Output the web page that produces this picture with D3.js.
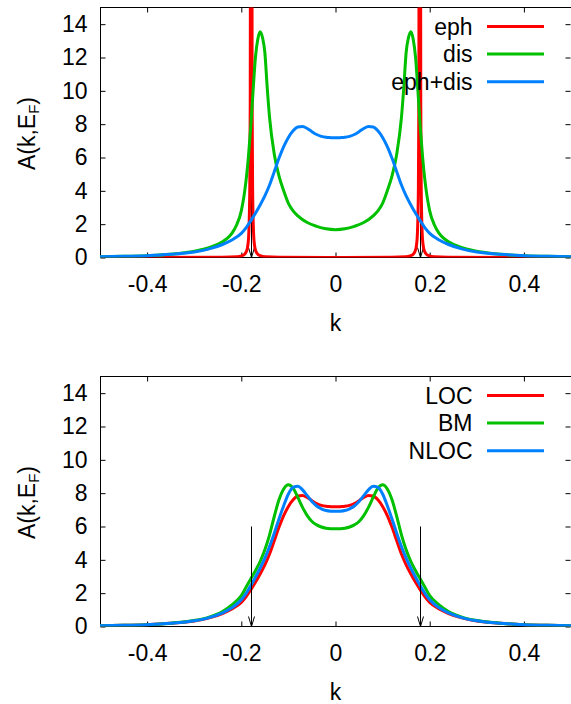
<!DOCTYPE html>
<html><head><meta charset="utf-8">
<script src="https://cdn.jsdelivr.net/npm/d3@7"></script>
<style>
body{margin:0;background:#fff}
svg{display:block}
text{font-family:"Liberation Sans",Arial,Helvetica,sans-serif}
</style>
</head><body>
<svg id="c" width="571" height="704"></svg>
<script>
// ---------- data ----------
const xTicks = [-0.4, -0.2, 0, 0.2, 0.4];
const yTicks = [0, 2, 4, 6, 8, 10, 12, 14];

// top panel: eph (very narrow peaks at k = ±0.179)
const ephK = [-0.5,-0.239,-0.209,-0.194,-0.189,-0.186,-0.184,-0.182,-0.181,-0.180,-0.179,-0.178,-0.177,-0.176,-0.174,-0.172,-0.169,-0.164,-0.149,-0.119,0,
              0.119,0.149,0.164,0.169,0.172,0.174,0.176,0.177,0.178,0.179,0.180,0.181,0.182,0.184,0.186,0.189,0.194,0.209,0.239,0.5];
const ephV = [0,0.01,0.04,0.17,0.37,0.75,1.5,4.2,9.4,37,200,37,9.4,4.2,1.5,0.75,0.37,0.17,0.04,0.01,0.003,
              0.01,0.04,0.17,0.37,0.75,1.5,4.2,9.4,37,200,37,9.4,4.2,1.5,0.75,0.37,0.17,0.04,0.01,0];

// top panel: dis
const disK = [-0.5,-0.45,-0.4,-0.35,-0.31,-0.28,-0.26,-0.24,-0.23,-0.22,-0.21,-0.2,-0.19,-0.185,-0.18,-0.175,-0.17,-0.165,-0.16,-0.155,-0.15,-0.145,-0.14,-0.13,-0.12,-0.11,-0.1,-0.09,-0.08,-0.06,-0.04,-0.02,0,
              0.02,0.04,0.06,0.08,0.09,0.1,0.11,0.12,0.13,0.14,0.145,0.15,0.155,0.16,0.165,0.17,0.175,0.18,0.185,0.19,0.2,0.21,0.22,0.23,0.24,0.26,0.28,0.31,0.35,0.4,0.45,0.5];
const disV = [0.05,0.07,0.11,0.19,0.33,0.5,0.68,0.95,1.15,1.45,1.95,2.8,4.6,6.0,7.8,10.0,12.0,13.1,13.55,13.2,12.3,10.2,8.4,6.2,4.9,4.0,3.25,2.8,2.5,2.1,1.87,1.72,1.67,
              1.72,1.87,2.1,2.5,2.8,3.25,4.0,4.9,6.2,8.4,10.2,12.3,13.2,13.55,13.1,12.0,10.0,7.8,6.0,4.6,2.8,1.95,1.45,1.15,0.95,0.68,0.5,0.33,0.19,0.11,0.07,0.05];

// common k grid for the broad curves
const kGrid = [-0.5,-0.45,-0.4,-0.35,-0.3,-0.27,-0.24,-0.22,-0.2,-0.19,-0.18,-0.17,-0.16,-0.15,-0.14,-0.13,-0.12,-0.11,-0.1,-0.09,-0.08,-0.07,-0.06,-0.05,-0.04,-0.03,-0.02,-0.01,0,
               0.01,0.02,0.03,0.04,0.05,0.06,0.07,0.08,0.09,0.1,0.11,0.12,0.13,0.14,0.15,0.16,0.17,0.18,0.19,0.2,0.22,0.24,0.27,0.3,0.35,0.4,0.45,0.5];

// top panel: eph+dis
const ephdisV = [0.05,0.07,0.11,0.19,0.33,0.5,0.78,1.05,1.45,1.78,2.2,2.65,3.15,3.7,4.35,5.15,5.95,6.65,7.2,7.6,7.83,7.86,7.74,7.55,7.38,7.27,7.21,7.19,7.18,
                 7.19,7.21,7.27,7.38,7.55,7.74,7.86,7.83,7.6,7.2,6.65,5.95,5.15,4.35,3.7,3.15,2.65,2.2,1.78,1.45,1.05,0.78,0.5,0.33,0.19,0.11,0.07,0.05];

// bottom panel
const locV  = [0.05,0.07,0.11,0.19,0.33,0.5,0.78,1.05,1.45,1.78,2.2,2.65,3.15,3.7,4.35,5.15,5.95,6.65,7.2,7.6,7.83,7.86,7.74,7.55,7.38,7.27,7.21,7.19,7.18,
               7.19,7.21,7.27,7.38,7.55,7.74,7.86,7.83,7.6,7.2,6.65,5.95,5.15,4.35,3.7,3.15,2.65,2.2,1.78,1.45,1.05,0.78,0.5,0.33,0.19,0.11,0.07,0.05];
const bmV   = [0.05,0.07,0.11,0.2,0.36,0.55,0.9,1.3,1.85,2.35,2.85,3.35,3.9,4.6,5.5,6.6,7.6,8.25,8.5,8.3,7.75,7.15,6.65,6.3,6.1,5.97,5.9,5.87,5.86,
               5.87,5.9,5.97,6.1,6.3,6.65,7.15,7.75,8.3,8.5,8.25,7.6,6.6,5.5,4.6,3.9,3.35,2.85,2.35,1.85,1.3,0.9,0.55,0.36,0.2,0.11,0.07,0.05];
const nlocV = [0.05,0.07,0.11,0.19,0.34,0.52,0.82,1.12,1.6,1.98,2.45,2.95,3.5,4.1,4.8,5.6,6.45,7.25,7.95,8.35,8.42,8.2,7.85,7.5,7.23,7.06,6.96,6.92,6.91,
               6.92,6.96,7.06,7.23,7.5,7.85,8.2,8.42,8.35,7.95,7.25,6.45,5.6,4.8,4.1,3.5,2.95,2.45,1.98,1.6,1.12,0.82,0.52,0.34,0.19,0.11,0.07,0.05];

const arrowK = [-0.179, 0.179];
const arrowFrom = 6, arrowTo = 0;

const topNames = ["eph", "dis", "eph+dis"];
const botNames = ["LOC", "BM", "NLOC"];
const colors = ["#ff0000", "#00c000", "#0080ff"];

// ---------- drawing ----------
const FS = "23px";
const svg = d3.select("#c");
const left = 100, plotW = 471, plotH = 250;
const x = d3.scaleLinear().domain([-0.5, 0.5]).range([left, left + plotW]);
const zip = (ks, vs) => ks.map((k, i) => [k, vs[i]]);

const panels = [
  {y0: 7.5, series: [zip(ephK, ephV), zip(disK, disV), zip(kGrid, ephdisV)], names: topNames, arrowsOnTop: false},
  {y0: 376.5, series: [zip(kGrid, locV), zip(kGrid, bmV), zip(kGrid, nlocV)], names: botNames, arrowsOnTop: true}
];

panels.forEach((p, pi) => {
  const y = d3.scaleLinear().domain([0, 15]).range([p.y0 + plotH, p.y0]);
  const g = svg.append("g");
  const clipId = "clip" + pi;
  g.append("clipPath").attr("id", clipId).append("rect")
    .attr("x", left).attr("y", p.y0).attr("width", plotW).attr("height", plotH);

  // axes
  const fmt = d => String(d);
  const ax = [
    g.append("g").attr("transform", `translate(${left + 0.5},0)`)
      .call(d3.axisLeft(y).tickValues(yTicks).tickSizeInner(-5).tickSizeOuter(0).tickPadding(13).tickFormat(fmt)),
    g.append("g").attr("transform", `translate(${left + plotW - 0.5},0)`)
      .call(d3.axisRight(y).tickValues(yTicks).tickSizeInner(-5).tickSizeOuter(0).tickFormat("")),
    g.append("g").attr("transform", `translate(0,${p.y0 + plotH})`)
      .call(d3.axisBottom(x).tickValues(xTicks).tickSizeInner(-5).tickSizeOuter(0).tickPadding(18.5).tickFormat(fmt)),
    g.append("g").attr("transform", `translate(0,${p.y0})`)
      .call(d3.axisTop(x).tickValues(xTicks).tickSizeInner(-5).tickSizeOuter(0).tickFormat(""))
  ];
  ax.forEach(a => {
    a.attr("font-size", null).attr("font-family", null);
    a.select(".domain").remove();
    a.selectAll("line").attr("stroke", "#000");
    a.selectAll("text").attr("fill", "#000").style("font-size", FS);
  });

  // frame
  g.append("rect").attr("x", left + 0.5).attr("y", p.y0).attr("width", plotW).attr("height", plotH)
    .attr("fill", "none").attr("stroke", "#000").attr("stroke-width", 1);

  const drawArrows = () => {
    const ag = g.append("g").attr("stroke", "#000").attr("stroke-width", 1).attr("fill", "none");
    arrowK.forEach(k => {
      const xx = Math.round(x(k)) + 0.5, yt = y(arrowTo), yf = y(arrowFrom);
      ag.append("line").attr("x1", xx).attr("x2", xx).attr("y1", yf).attr("y2", yt);
      ag.append("path").attr("d", `M${xx - 3},${yt - 10}L${xx},${yt}L${xx + 3},${yt - 10}`);
    });
  };
  if (!p.arrowsOnTop) drawArrows();

  const line = d3.line().x(d => x(d[0])).y(d => y(d[1])).curve(d3.curveMonotoneX);
  const cg = g.append("g").attr("clip-path", `url(#${clipId})`);
  p.series.forEach((s, i) => {
    cg.append("path").datum(s).attr("d", line).attr("fill", "none")
      .attr("stroke", colors[i]).attr("stroke-width", 3).attr("stroke-linejoin", "round");
  });

  if (p.arrowsOnTop) drawArrows();

  // legend
  p.names.forEach((n, i) => {
    const ly = p.y0 + 19 + i * 27.6;
    g.append("text").attr("x", 472.5).attr("y", ly + 8).attr("text-anchor", "end")
      .style("font-size", FS).text(n);
    g.append("line").attr("x1", 487).attr("x2", 544).attr("y1", ly).attr("y2", ly)
      .attr("stroke", colors[i]).attr("stroke-width", 3);
  });

  // axis titles
  g.append("text").attr("x", x(0)).attr("y", p.y0 + plotH + 73).attr("text-anchor", "middle")
    .style("font-size", FS).text("k");
  const yl = g.append("text").attr("transform", `translate(35,${p.y0 + 126}) rotate(-90)`)
    .attr("text-anchor", "middle").style("font-size", FS);
  yl.append("tspan").text("A(k,E");
  yl.append("tspan").attr("dy", 4).style("font-size", "15px").text("F");
  yl.append("tspan").attr("dy", -4).text(")");
});
</script>
</body></html>
